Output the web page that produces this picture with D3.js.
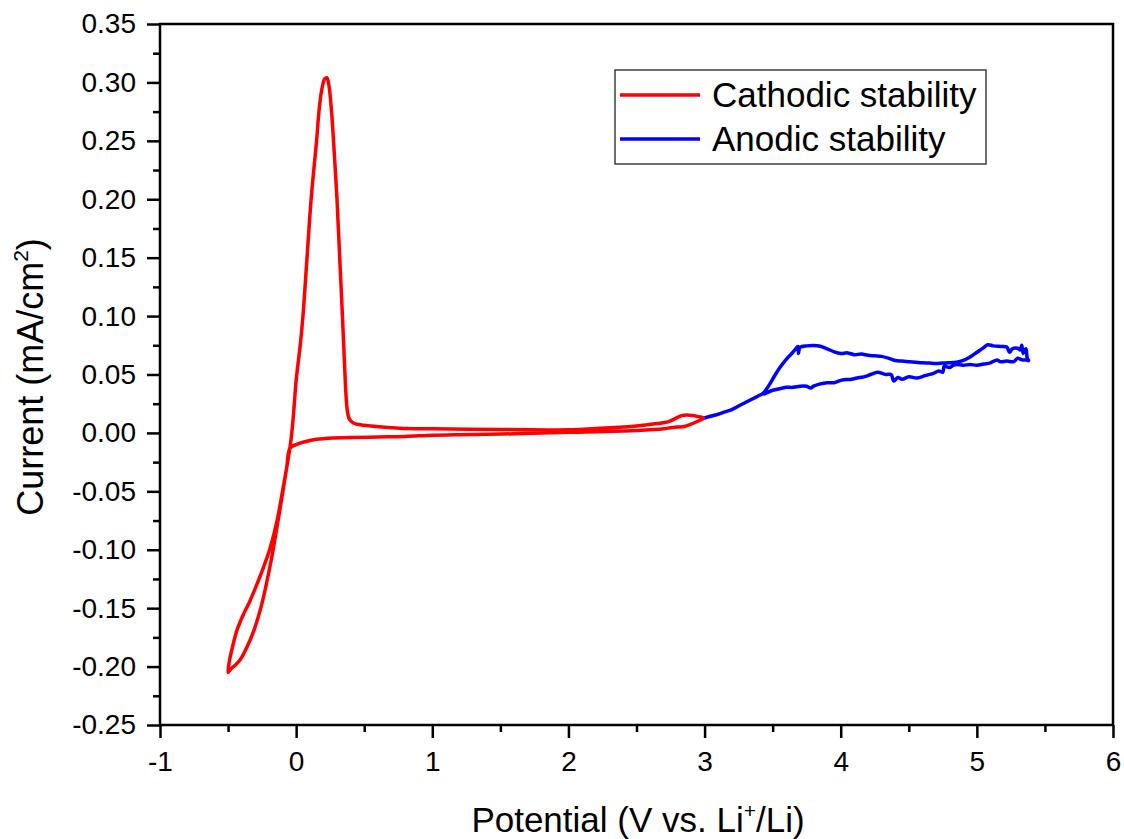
<!DOCTYPE html>
<html>
<head>
<meta charset="utf-8">
<script src="https://cdn.jsdelivr.net/npm/d3@7"></script>
<style>
  html, body { margin: 0; padding: 0; background: #fff; }
  svg { display: block; font-family: "Liberation Sans", Arial, sans-serif; }
  .axis path { display: none; }
  .axis line { stroke: #000; stroke-width: 2.5; }
  .axis text { fill: #000; font-size: 28px; }
</style>
</head>
<body>
<svg id="chart" width="1124" height="839"></svg>
<script>
// cathodic scan: 3.0 V -> -0.5 V -> 3.0 V
var cathodicPotential = [3.00, 2.95, 2.90, 2.85, 2.80, 2.75, 2.70, 2.50, 2.20, 2.00, 1.80, 1.50, 1.20, 1.00, 0.80, 0.60, 0.40, 0.27, 0.15, 0.05, 0.00, -0.044,
    -0.07, -0.10, -0.14, -0.19, -0.24, -0.29, -0.34, -0.39, -0.435, -0.465, -0.49, -0.50,
    -0.48, -0.45, -0.41, -0.36, -0.31, -0.26, -0.22, -0.18, -0.14, -0.10, -0.07, -0.04, -0.02, 0.00, 0.03, 0.05, 0.08, 0.11, 0.15, 0.17, 0.19, 0.21, 0.225, 0.24, 0.26, 0.28, 0.30, 0.32, 0.34, 0.355, 0.365, 0.375, 0.39, 0.42, 0.50, 0.76, 1.00, 1.50, 1.86, 2.00, 2.23, 2.50, 2.65, 2.73, 2.78, 2.83, 2.87, 2.92, 2.96, 3.00];
var cathodicCurrent = [0.0128, 0.010, 0.0075, 0.0055, 0.005, 0.0045, 0.0035, 0.002, 0.001, 0.0005, 0.0, -0.001, -0.0015, -0.002, -0.003, -0.0035, -0.004, -0.0043, -0.0055, -0.008, -0.010, -0.0128,
    -0.030, -0.050, -0.075, -0.098, -0.115, -0.130, -0.144, -0.156, -0.169, -0.182, -0.195, -0.205,
    -0.202, -0.199, -0.194, -0.183, -0.169, -0.150, -0.130, -0.107, -0.080, -0.052, -0.030, -0.008, 0.015, 0.045, 0.075, 0.100, 0.150, 0.200, 0.250, 0.278, 0.295, 0.303, 0.304, 0.298, 0.275, 0.240, 0.200, 0.150, 0.100, 0.060, 0.035, 0.020, 0.012, 0.0085, 0.0065, 0.004, 0.0035, 0.003, 0.0026, 0.0027, 0.004, 0.006, 0.008, 0.0094, 0.012, 0.0148, 0.0154, 0.0148, 0.0138, 0.0128];

// anodic scan: 3.0 V -> 5.4 V -> 3.4 V
var anodicPotential = [3.00, 3.05, 3.10, 3.15, 3.20, 3.25, 3.30, 3.35, 3.40, 3.43, 3.48, 3.52, 3.56, 3.60, 3.64, 3.67, 3.685, 3.69, 3.70, 3.75, 3.80, 3.85, 3.90, 3.95, 4.00, 4.05, 4.10, 4.15, 4.20, 4.25, 4.30, 4.35, 4.40, 4.45, 4.50, 4.55, 4.60, 4.65, 4.70, 4.75, 4.80, 4.85, 4.90, 4.95, 5.00, 5.05, 5.08, 5.12, 5.18, 5.22, 5.24, 5.26, 5.30, 5.32, 5.33, 5.34, 5.36, 5.37, 5.38,
    5.36, 5.33, 5.30, 5.27, 5.22, 5.17, 5.15, 5.10, 5.05, 5.00, 4.95, 4.90, 4.85, 4.83, 4.80, 4.76, 4.75, 4.72, 4.68, 4.62, 4.56, 4.50, 4.45, 4.42, 4.39, 4.37, 4.33, 4.27, 4.22, 4.17, 4.12, 4.08, 4.00, 3.95, 3.90, 3.85, 3.80, 3.78, 3.75, 3.70, 3.65, 3.60, 3.56, 3.50, 3.45, 3.43];
var anodicCurrent = [0.0128, 0.0145, 0.016, 0.018, 0.020, 0.023, 0.026, 0.029, 0.032, 0.034, 0.042, 0.050, 0.057, 0.063, 0.068, 0.072, 0.074, 0.068, 0.073, 0.0745, 0.0748, 0.0742, 0.072, 0.0695, 0.068, 0.0685, 0.067, 0.0675, 0.0665, 0.066, 0.0655, 0.064, 0.062, 0.0615, 0.061, 0.0605, 0.060, 0.0598, 0.0595, 0.0598, 0.060, 0.0605, 0.062, 0.065, 0.069, 0.073, 0.0755, 0.0745, 0.074, 0.0735, 0.069, 0.072, 0.0725, 0.071, 0.075, 0.068, 0.072, 0.064, 0.062,
    0.0625, 0.0625, 0.064, 0.061, 0.0615, 0.061, 0.0625, 0.060, 0.059, 0.058, 0.0585, 0.058, 0.0585, 0.058, 0.056, 0.057, 0.052, 0.053, 0.051, 0.049, 0.047, 0.048, 0.046, 0.0475, 0.0445, 0.050, 0.050, 0.052, 0.050, 0.048, 0.047, 0.046, 0.045, 0.043, 0.043, 0.042, 0.040, 0.0385, 0.040, 0.040, 0.039, 0.039, 0.038, 0.0365, 0.034, 0.033];

var xTicks = [-1, 0, 1, 2, 3, 4, 5, 6];
var yTicks = [-0.25, -0.20, -0.15, -0.10, -0.05, 0.00, 0.05, 0.10, 0.15, 0.20, 0.25, 0.30, 0.35];
var seriesNames = ['Cathodic stability', 'Anodic stability'];
var seriesColors = ['#ff0000', '#0000ff'];

var margin = {left: 160, right: 1113, top: 24, bottom: 725};
var svg = d3.select('#chart');

var x = d3.scaleLinear().domain([-1, 6]).range([margin.left, margin.right]);
var y = d3.scaleLinear().domain([-0.25, 0.35]).range([margin.bottom, margin.top]);

function zip(xs, ys) {
    return xs.map(function(v, i) { return [v, ys[i]]; });
}

// minor ticks
var xMinor = d3.range(-0.5, 6, 1);
var yMinor = d3.range(-0.225, 0.35, 0.05);

svg.append('g').attr('class', 'axis')
    .attr('transform', 'translate(0,' + margin.bottom + ')')
    .call(d3.axisBottom(x).tickValues(xMinor).tickSize(7).tickFormat(''));
svg.append('g').attr('class', 'axis')
    .attr('transform', 'translate(' + margin.left + ',0)')
    .call(d3.axisLeft(y).tickValues(yMinor).tickSize(7).tickFormat(''));

svg.append('g').attr('class', 'axis')
    .attr('transform', 'translate(0,' + margin.bottom + ')')
    .call(d3.axisBottom(x).tickValues(xTicks).tickSize(13).tickPadding(13)
        .tickFormat(function(d) { return String(d); }));
svg.append('g').attr('class', 'axis')
    .attr('transform', 'translate(' + margin.left + ',0)')
    .call(d3.axisLeft(y).tickValues(yTicks).tickSize(13).tickPadding(11)
        .tickFormat(function(d) { return d.toFixed(2); }));

// data
var line = d3.line()
    .x(function(d) { return x(d[0]); })
    .y(function(d) { return y(d[1]); })
    .curve(d3.curveCatmullRom.alpha(0.5));

var series = [zip(cathodicPotential, cathodicCurrent), zip(anodicPotential, anodicCurrent)];
svg.append('g').selectAll('path')
    .data(series)
  .enter().append('path')
    .attr('d', line)
    .attr('fill', 'none')
    .attr('stroke', function(d, i) { return seriesColors[i]; })
    .attr('stroke-width', 3.5)
    .attr('stroke-linejoin', 'round');

// frame
svg.append('rect')
    .attr('x', margin.left).attr('y', margin.top)
    .attr('width', margin.right - margin.left)
    .attr('height', margin.bottom - margin.top)
    .attr('fill', 'none').attr('stroke', '#000').attr('stroke-width', 2.5);

// axis titles
var xt = svg.append('text')
    .attr('x', 638).attr('y', 832)
    .attr('text-anchor', 'middle').attr('font-size', 35);
xt.append('tspan').text('Potential (V vs. Li');
xt.append('tspan').attr('font-size', 21).attr('dy', -14).text('+');
xt.append('tspan').attr('dy', 14).text('/Li)');

var yt = svg.append('text')
    .attr('transform', 'translate(43,' + 377 + ') rotate(-90)')
    .attr('text-anchor', 'middle').attr('font-size', 36);
yt.append('tspan').text('Current (mA/cm');
yt.append('tspan').attr('font-size', 21).attr('dy', -15).text('2');
yt.append('tspan').attr('dy', 15).text(')');

// legend
var legend = svg.append('g');
legend.append('rect')
    .attr('x', 615).attr('y', 70).attr('width', 371).attr('height', 94)
    .attr('fill', '#fff').attr('stroke', '#222').attr('stroke-width', 1.3);
var items = legend.selectAll('.item')
    .data(seriesNames)
  .enter().append('g')
    .attr('transform', function(d, i) { return 'translate(0,' + (95 + i * 44) + ')'; });
items.append('line')
    .attr('x1', 620).attr('x2', 700)
    .attr('stroke', function(d, i) { return seriesColors[i]; })
    .attr('stroke-width', 3.5);
items.append('text')
    .attr('x', 712).attr('y', 12)
    .attr('font-size', 35)
    .text(function(d) { return d; });
</script>
</body>
</html>
